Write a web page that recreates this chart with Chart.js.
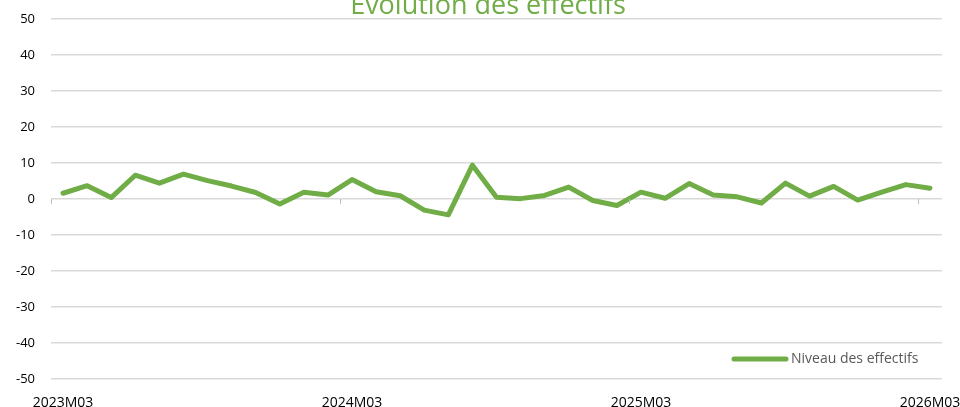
<!DOCTYPE html>
<html>
<head>
<meta charset="utf-8">
<script src="https://cdn.jsdelivr.net/npm/chart.js@4"></script>
<style>
    html, body { margin: 0; padding: 0; background: #fff; overflow: hidden; }
    canvas { display: block; }
</style>
</head>
<body>
<canvas id="chart" width="960" height="407"></canvas>
<script>
const categories = [
    '2023M03', '2023M04', '2023M05', '2023M06', '2023M07', '2023M08', '2023M09', '2023M10', '2023M11', '2023M12',
    '2024M01', '2024M02', '2024M03', '2024M04', '2024M05', '2024M06', '2024M07', '2024M08', '2024M09', '2024M10',
    '2024M11', '2024M12', '2025M01', '2025M02', '2025M03', '2025M04', '2025M05', '2025M06', '2025M07', '2025M08',
    '2025M09', '2025M10', '2025M11', '2025M12', '2026M01', '2026M02', '2026M03'
];
const effectifs = [
    1.6, 3.7, 0.4, 6.6, 4.4, 6.9, 5.1, 3.6, 1.8, -1.4,
    1.9, 1.1, 5.4, 2.0, 0.9, -3.1, -4.4, 9.4, 0.5, 0.1,
    1.0, 3.3, -0.4, -1.8, 1.9, 0.2, 4.3, 1.1, 0.6, -1.1,
    4.4, 0.8, 3.5, -0.3, 1.9, 4.0, 3.0
];
const shownLabels = ['2023M03', '2024M03', '2025M03', '2026M03'];
const titleText = 'Évolution des effectifs';
const seriesName = 'Niveau des effectifs';

const green = '#70AD47';

// title (cut at the top), legend inside the plot, small ticks on the zero line
const decor = {
    id: 'decor',
    afterDraw(chart) {
        const ctx = chart.ctx;
        const xs = chart.scales.x;
        const ys = chart.scales.y;
        ctx.save();

        ctx.fillStyle = green;
        ctx.font = '27px "Open Sans"';
        ctx.textAlign = 'center';
        ctx.textBaseline = 'alphabetic';
        ctx.fillText(titleText, 488, 14);

        // tick marks at category boundaries on the zero line
        const step = xs.getPixelForValue(1) - xs.getPixelForValue(0);
        const y0 = ys.getPixelForValue(0);
        ctx.strokeStyle = '#bfbfbf';
        ctx.lineWidth = 1;
        categories.forEach(function (c, i) {
            if (shownLabels.indexOf(c) < 0) return;
            const x = Math.round(xs.getPixelForValue(i) - step / 2) + 0.5;
            ctx.beginPath();
            ctx.moveTo(x, y0);
            ctx.lineTo(x, y0 + 5);
            ctx.stroke();
        });

        // legend
        const ly = 359;
        ctx.strokeStyle = green;
        ctx.lineWidth = 5;
        ctx.lineCap = 'round';
        ctx.beginPath();
        ctx.moveTo(734, ly);
        ctx.lineTo(786, ly);
        ctx.stroke();
        ctx.fillStyle = '#595959';
        ctx.font = '14px "Open Sans"';
        ctx.textAlign = 'left';
        ctx.textBaseline = 'middle';
        ctx.fillText(seriesName, 791, ly);

        ctx.restore();
    }
};

new Chart(document.getElementById('chart'), {
    type: 'line',
    data: {
        labels: categories,
        datasets: [{
            label: seriesName,
            data: effectifs,
            borderColor: green,
            backgroundColor: green,
            borderWidth: 5,
            borderJoinStyle: 'round',
            borderCapStyle: 'round',
            pointRadius: 0,
            tension: 0,
            fill: false,
        }],
    },
    options: {
        responsive: false,
        devicePixelRatio: 1,
        animation: false,
        layout: { padding: { top: 19, right: 18, left: 0, bottom: 0 } },
        plugins: {
            legend: { display: false },
            title: { display: false },
            tooltip: { enabled: false },
        },
        scales: {
            x: {
                offset: true,
                grid: { display: false },
                border: { display: false },
                ticks: {
                    autoSkip: false,
                    maxRotation: 0,
                    padding: 8,
                    color: '#000',
                    font: { family: 'Open Sans', size: 14 },
                    callback: function (v, i) {
                        const c = categories[i];
                        return shownLabels.indexOf(c) >= 0 ? c : '';
                    },
                },
                afterFit: function (scale) {
                    scale.height = 28;
                    scale.paddingLeft = 0;
                    scale.paddingRight = 0;
                },
            },
            y: {
                min: -50,
                max: 50,
                grid: { color: '#d9d9d9', lineWidth: 1.5, drawTicks: false },
                border: { display: false },
                ticks: {
                    stepSize: 10,
                    padding: 16,
                    color: '#000',
                    font: { family: 'Open Sans', size: 13 },
                },
                afterFit: function (scale) {
                    scale.width = 51;
                    scale.paddingTop = 0;
                    scale.paddingBottom = 0;
                },
            },
        },
    },
    plugins: [decor],
});
</script>
</body>
</html>
